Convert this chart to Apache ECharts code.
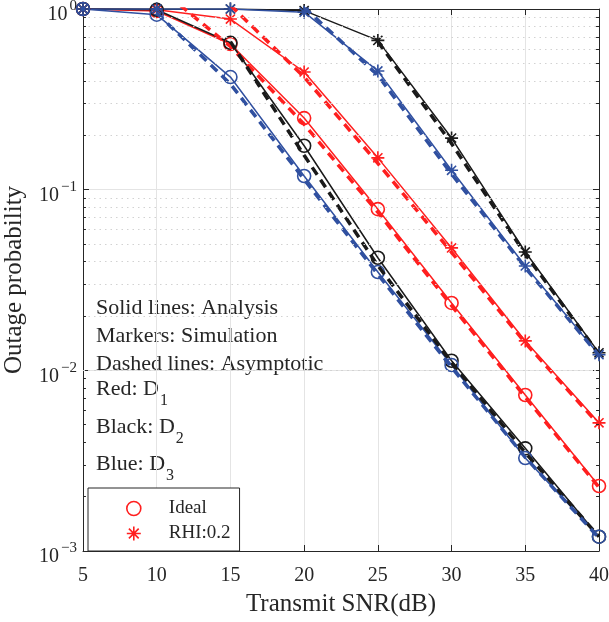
<!DOCTYPE html>
<html lang="en">
<head>
<meta charset="utf-8" />
<script src="https://cdn.jsdelivr.net/npm/echarts@6/dist/echarts.min.js"></script>
<style>
  html, body { margin: 0; padding: 0; background: #fff; }
  #view1 { width: 609px; height: 622px; }
</style>
</head>
<body>
<div id="view1"></div>
<script>
// transmit SNR (dB)
var snr = [5, 10, 15, 20, 25, 30, 35, 40];

// analysis curves (markers = simulation sit on them)
var redIdeal   = [1, 0.975, 0.64, 0.249, 0.078, 0.0236, 0.0073, 0.00229];
var redRhi     = [1, 0.99, 0.88, 0.448, 0.150, 0.0476, 0.01455, 0.00512];
var blackIdeal = [1, 0.99, 0.65, 0.175, 0.042, 0.0113, 0.0037, 0.0012];
var blackRhi   = [1, 1, 1, 0.98, 0.67, 0.193, 0.0452, 0.0125];
var blueIdeal  = [1, 0.93, 0.42, 0.119, 0.035, 0.0107, 0.00327, 0.0012];
var blueRhi    = [1, 1, 1, 0.96, 0.454, 0.128, 0.0378, 0.0122];

// asymptotic curves (values above 1 are clipped by the axis)
var redIdealAsy   = [null, 1.34, 0.62, 0.23, 0.075, 0.0228, 0.0071, 0.00225];
var redRhiAsy     = [null, null, 1.05, 0.42, 0.14, 0.045, 0.0142, 0.0050];
var blackIdealAsy = [null, null, 0.66, 0.155, 0.038, 0.0110, 0.0035, 0.0012];
var blackRhiAsy   = [null, null, null, null, 0.66, 0.18, 0.044, 0.0123];
var blueIdealAsy  = [null, 0.95, 0.385, 0.114, 0.034, 0.0104, 0.0033, 0.00118];
var blueRhiAsy    = [null, null, null, 1.02, 0.43, 0.122, 0.037, 0.0121];

var xTicks = {min: 5, max: 40, interval: 5};
// log minor grid positions (2..9 of each decade)
var minorY = [0.002, 0.003, 0.004, 0.005, 0.006, 0.007, 0.008, 0.009,
              0.02, 0.03, 0.04, 0.05, 0.06, 0.07, 0.08, 0.09,
              0.2, 0.3, 0.4, 0.5, 0.6, 0.7, 0.8, 0.9];
var legendNames = ['Ideal', 'RHI:0.2'];

var RED = '#ff1f1f', BLACK = '#1a1a1a', BLUE = '#3050a0', AXIS = '#262626';
var FONT = 'Liberation Serif';
var STAR = 'path://M0,-10L0,10M-10,0L10,0M-7,-7L7,7M-7,7L7,-7';

function pairs(ys){
    return snr.map(function(x, i){ return [x, ys[i]]; });
}

function anaSeries(name, ys, color, symbol){
    return {
        name: name, type: 'line', data: pairs(ys),
        symbol: symbol, symbolSize: 13, showAllSymbol: true,
        lineStyle: {color: color, width: 1.5},
        itemStyle: {color: 'transparent', borderColor: color, borderWidth: 1.6},
        emphasis: {disabled: true}, animation: false, z: 3
    };
}

function asySeries(ys, color){
    return {
        type: 'line', data: pairs(ys), symbol: 'none',
        lineStyle: {color: color, width: 3.5, type: [9, 6]},
        emphasis: {disabled: true}, animation: false, z: 4
    };
}

function supLabel(v){
    var e = Math.round(Math.log(v) / Math.LN10);
    return '{b|10}{s|' + (e < 0 ? '\u2212' + (-e) : e) + '}';
}

// minor grid + minor ticks on left/right edges
var minorMarks = [];
minorY.forEach(function(v){
    minorMarks.push({yAxis: v, lineStyle: {color: '#d2d2d2', width: 1, type: [1.5, 4]}});
    minorMarks.push([{coord: [xTicks.min, v], lineStyle: {color: AXIS, width: 1, type: 'solid'}}, {coord: [xTicks.min + 0.2, v]}]);
    minorMarks.push([{coord: [xTicks.max - 0.2, v], lineStyle: {color: AXIS, width: 1, type: 'solid'}}, {coord: [xTicks.max, v]}]);
});

var yAxisBase = {
    type: 'log', logBase: 10, min: 0.001, max: 1,
    axisLine: {show: true, lineStyle: {color: AXIS, width: 1}},
    axisTick: {show: true, inside: true, length: 6, lineStyle: {color: AXIS}}
};

var rich = {
    a: {fontFamily: FONT, fontSize: 22, verticalAlign: 'top', lineHeight: 24},
    s: {fontFamily: FONT, fontSize: 16, verticalAlign: 'bottom', lineHeight: 31, padding: [0, 0, 0, 1]}
};

var option = {
    backgroundColor: '#fff',
    grid: {left: 83, top: 9, right: 10, bottom: 71, containLabel: false, outerBoundsMode: 'none'},
    xAxis: [{
        type: 'value', min: xTicks.min, max: xTicks.max, interval: xTicks.interval,
        name: 'Transmit SNR(dB)', nameLocation: 'middle', nameGap: 41,
        nameTextStyle: {fontFamily: FONT, fontSize: 25, color: AXIS},
        axisLine: {show: true, onZero: false, lineStyle: {color: AXIS, width: 1}},
        axisTick: {show: true, inside: true, length: 6, lineStyle: {color: AXIS}},
        axisLabel: {fontFamily: FONT, fontSize: 20, color: AXIS, margin: 15},
        splitLine: {show: true, lineStyle: {color: '#e4e4e4', width: 1}}
    }, {
        type: 'value', position: 'top', min: xTicks.min, max: xTicks.max, interval: xTicks.interval,
        axisLine: {show: true, onZero: false, lineStyle: {color: AXIS, width: 1}},
        axisTick: {show: true, inside: true, length: 6, lineStyle: {color: AXIS}},
        axisLabel: {show: false}, splitLine: {show: false}
    }],
    yAxis: [Object.assign({}, yAxisBase, {
        name: 'Outage probability', nameLocation: 'middle', nameGap: 56,
        nameTextStyle: {fontFamily: FONT, fontSize: 25, color: AXIS},
        axisLabel: {
            formatter: supLabel, margin: 6, padding: [12, 0, 0, 0],
            rich: {
                b: {fontFamily: FONT, fontSize: 20, color: AXIS, verticalAlign: 'middle', lineHeight: 32},
                s: {fontFamily: FONT, fontSize: 15, color: AXIS, verticalAlign: 'top', lineHeight: 15, padding: [0, 0, 0, 2]}
            }
        },
        splitLine: {show: true, lineStyle: {color: '#e4e4e4', width: 1}}
    }), Object.assign({}, yAxisBase, {
        position: 'right', axisLabel: {show: false}, splitLine: {show: false}
    })],
    legend: {
        orient: 'vertical', left: 88, top: 488,
        padding: [11, 9, 8, 38], itemGap: 6,
        itemWidth: 60, itemHeight: 14,
        borderColor: AXIS, borderWidth: 1, backgroundColor: '#fff', borderRadius: 0,
        textStyle: {fontFamily: FONT, fontSize: 19, color: AXIS},
        data: [
            {name: legendNames[0], icon: 'circle', itemStyle: {color: 'transparent', borderColor: RED, borderWidth: 1.6}},
            {name: legendNames[1], icon: STAR, itemStyle: {color: 'transparent', borderColor: RED, borderWidth: 1.6}}
        ],
        selectedMode: false
    },
    graphic: [
        {type: 'text', left: 96, top: 297, style: {text: 'Solid lines: Analysis', font: '22px "Liberation Serif"', fill: AXIS}},
        {type: 'text', left: 96, top: 325, style: {text: 'Markers: Simulation', font: '22px "Liberation Serif"', fill: AXIS}},
        {type: 'text', left: 96, top: 353, style: {text: 'Dashed lines: Asymptotic', font: '22px "Liberation Serif"', fill: AXIS}},
        {type: 'text', left: 96, top: 378, style: {text: '{a|Red: D}{s|1}', fill: AXIS, rich: rich}},
        {type: 'text', left: 96, top: 416, style: {text: '{a|Black: D}{s|2}', fill: AXIS, rich: rich}},
        {type: 'text', left: 96, top: 453, style: {text: '{a|Blue: D}{s|3}', fill: AXIS, rich: rich}}
    ],
    series: [
        {
            type: 'line', data: [], symbol: 'none', silent: true, z: 1,
            markLine: {silent: true, symbol: ['none', 'none'], label: {show: false},
                animation: false, emphasis: {disabled: true}, data: minorMarks}
        },
        anaSeries('Ideal', redIdeal, RED, 'circle'),
        anaSeries('RHI:0.2', redRhi, RED, STAR),
        anaSeries('bk-ideal', blackIdeal, BLACK, 'circle'),
        anaSeries('bk-rhi', blackRhi, BLACK, STAR),
        anaSeries('bl-ideal', blueIdeal, BLUE, 'circle'),
        anaSeries('bl-rhi', blueRhi, BLUE, STAR),
        asySeries(redIdealAsy, RED),
        asySeries(redRhiAsy, RED),
        asySeries(blackIdealAsy, BLACK),
        asySeries(blackRhiAsy, BLACK),
        asySeries(blueIdealAsy, BLUE),
        asySeries(blueRhiAsy, BLUE)
    ]
};

var myChart = echarts.init(document.getElementById('view1'), null, {renderer: 'canvas'});
myChart.setOption(option);
</script>
</body>
</html>
